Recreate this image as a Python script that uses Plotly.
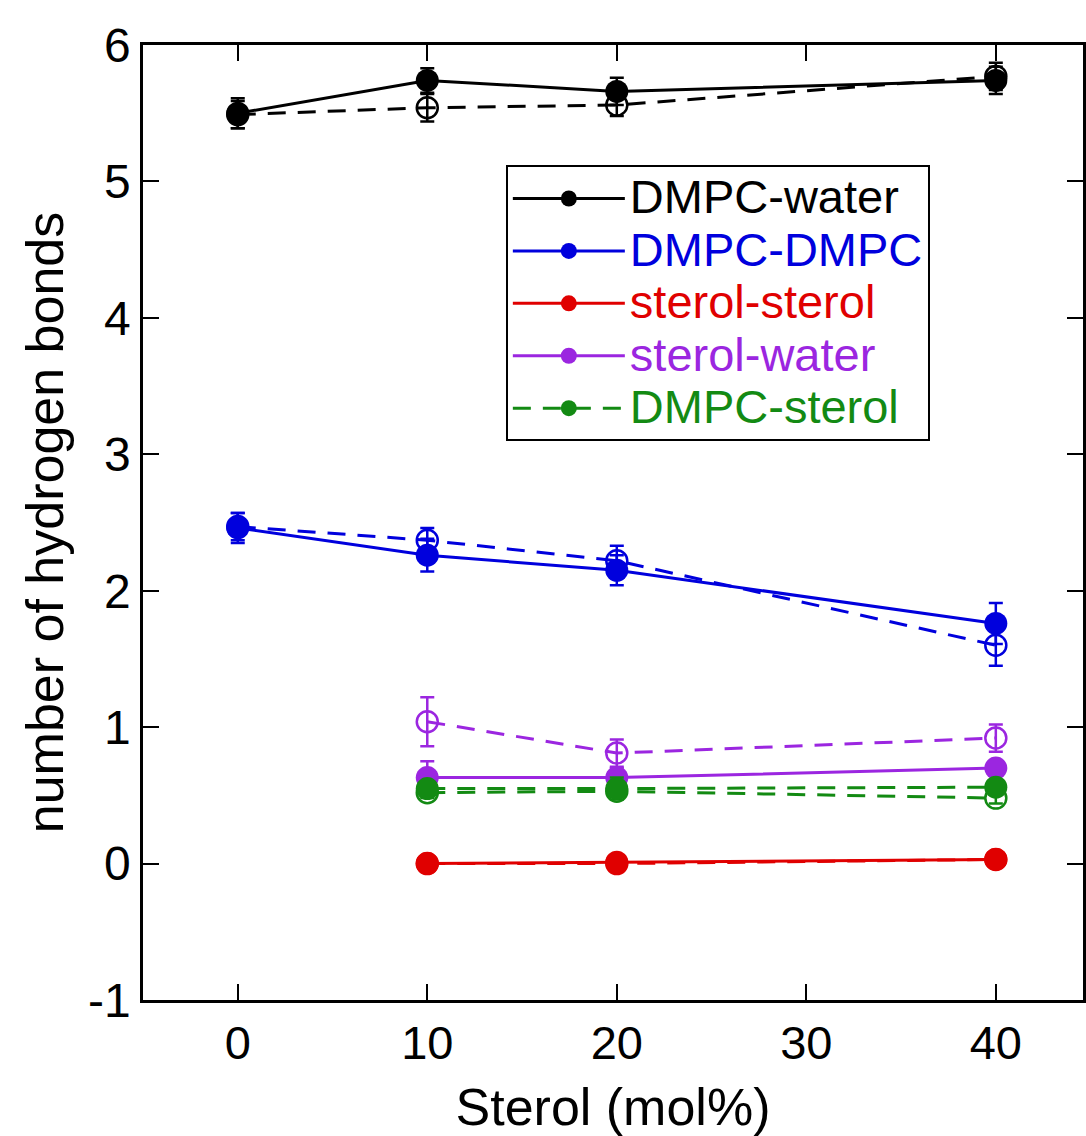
import plotly.graph_objects as go

sterol = [0, 10, 20, 40]
sterol_s = [10, 20, 40]

# filled (solid line) series
dmpc_water = [5.50, 5.74, 5.66, 5.74]
dmpc_water_err = [0.11, 0.09, 0.10, 0.10]
dmpc_dmpc = [2.46, 2.26, 2.15, 1.76]
dmpc_dmpc_err = [0.11, 0.12, 0.11, 0.15]
sterol_sterol = [0.00, 0.01, 0.03]
sterol_sterol_err = [0.02, 0.02, 0.02]
sterol_water = [0.63, 0.63, 0.70]
sterol_water_err = [0.12, 0.07, 0.05]
dmpc_sterol = [0.55, 0.55, 0.56]
dmpc_sterol_err = [0.05, 0.08, 0.05]

# open (dashed line) series
dmpc_water_o = [5.49, 5.54, 5.56, 5.77]
dmpc_water_o_err = [0.10, 0.10, 0.08, 0.10]
dmpc_dmpc_o = [2.47, 2.37, 2.22, 1.60]
dmpc_dmpc_o_err = [0.10, 0.09, 0.11, 0.15]
sterol_sterol_o = [0.00, 0.00, 0.03]
sterol_sterol_o_err = [0.02, 0.02, 0.02]
sterol_water_o = [1.04, 0.81, 0.92]
sterol_water_o_err = [0.18, 0.10, 0.10]
dmpc_sterol_o = [0.52, 0.53, 0.48]
dmpc_sterol_o_err = [0.04, 0.04, 0.04]

y_ticks = [-1, 0, 1, 2, 3, 4, 5, 6]
y_ticktext = ["-1", "0", "1", "2", "3", "4", "5", "6"]
x_ticks = [0, 10, 20, 30, 40]

BLACK = "#000000"
BLUE = "#0000dd"
RED = "#e00000"
PURPLE = "#9b26e0"
GREEN = "#138a13"

DASH = "18px,12px"

fig = go.Figure()

def add(x, y, err, color, name, filled, dash, show):
    fig.add_trace(go.Scatter(
        x=x, y=y, name=name, showlegend=show,
        mode="lines+markers",
        line=dict(color=color, width=3, dash=dash),
        marker=dict(
            symbol="circle" if filled else "circle-open",
            size=23 if filled else 21,
            color=color,
            line=dict(color=color, width=2.5 if not filled else 0),
        ),
        error_y=dict(type="data", array=err, visible=True, color=color,
                     thickness=2.5, width=7),
    ))

# dashed/open first
add(sterol, dmpc_water_o, dmpc_water_o_err, BLACK, "DMPC-water open", False, DASH, False)
add(sterol, dmpc_dmpc_o, dmpc_dmpc_o_err, BLUE, "DMPC-DMPC open", False, DASH, False)
add(sterol_s, sterol_sterol_o, sterol_sterol_o_err, RED, "sterol-sterol open", False, DASH, False)
add(sterol_s, sterol_water_o, sterol_water_o_err, PURPLE, "sterol-water open", False, DASH, False)
add(sterol_s, dmpc_sterol_o, dmpc_sterol_o_err, GREEN, "DMPC-sterol open", False, DASH, False)

add(sterol, dmpc_water, dmpc_water_err, BLACK, "DMPC-water", True, "solid", True)
add(sterol, dmpc_dmpc, dmpc_dmpc_err, BLUE, "DMPC-DMPC", True, "solid", True)
add(sterol_s, sterol_sterol, sterol_sterol_err, RED, "sterol-sterol", True, "solid", True)
add(sterol_s, sterol_water, sterol_water_err, PURPLE, "sterol-water", True, "solid", True)
add(sterol_s, dmpc_sterol, dmpc_sterol_err, GREEN, "DMPC-sterol", True, DASH, True)

legend_colors = [BLACK, BLUE, RED, PURPLE, GREEN]
for tr, c in zip([t for t in fig.data if t.showlegend is not False], legend_colors):
    tr.name = f"<span style='color:{c};font-size:47px'>{tr.name}</span>"

fig.update_layout(
    width=1086, height=1136,
    margin=dict(l=143, r=0, t=45, b=136),
    paper_bgcolor="white", plot_bgcolor="white",
    font=dict(family="Liberation Sans, Arial, sans-serif", color="black", size=40),
    legend=dict(
        x=0.386, y=0.874, xanchor="left", yanchor="top",
        bordercolor="black", borderwidth=2, bgcolor="white",
        font=dict(size=38),
        itemwidth=112, tracegroupgap=0,
    ),
    xaxis=dict(
        range=[-5, 44.6], tickvals=x_ticks,
        ticks="inside", ticklen=16, tickwidth=2, tickcolor="black",
        showline=True, linewidth=2.5, linecolor="black", mirror="ticks",
        showgrid=False, zeroline=False,
        tickfont=dict(size=47),
        title=dict(text="Sterol (mol%)", font=dict(size=52), standoff=26),
    ),
    yaxis=dict(
        range=[-1, 6], tickvals=y_ticks, ticktext=y_ticktext,
        ticks="inside", ticklen=16, tickwidth=2, tickcolor="black",
        showline=True, linewidth=2.5, linecolor="black", mirror="ticks",
        showgrid=False, zeroline=False,
        tickfont=dict(size=48),
        title=dict(text="number of hydrogen bonds", font=dict(size=52), standoff=8),
    ),
)

fig.write_html("out.html")
